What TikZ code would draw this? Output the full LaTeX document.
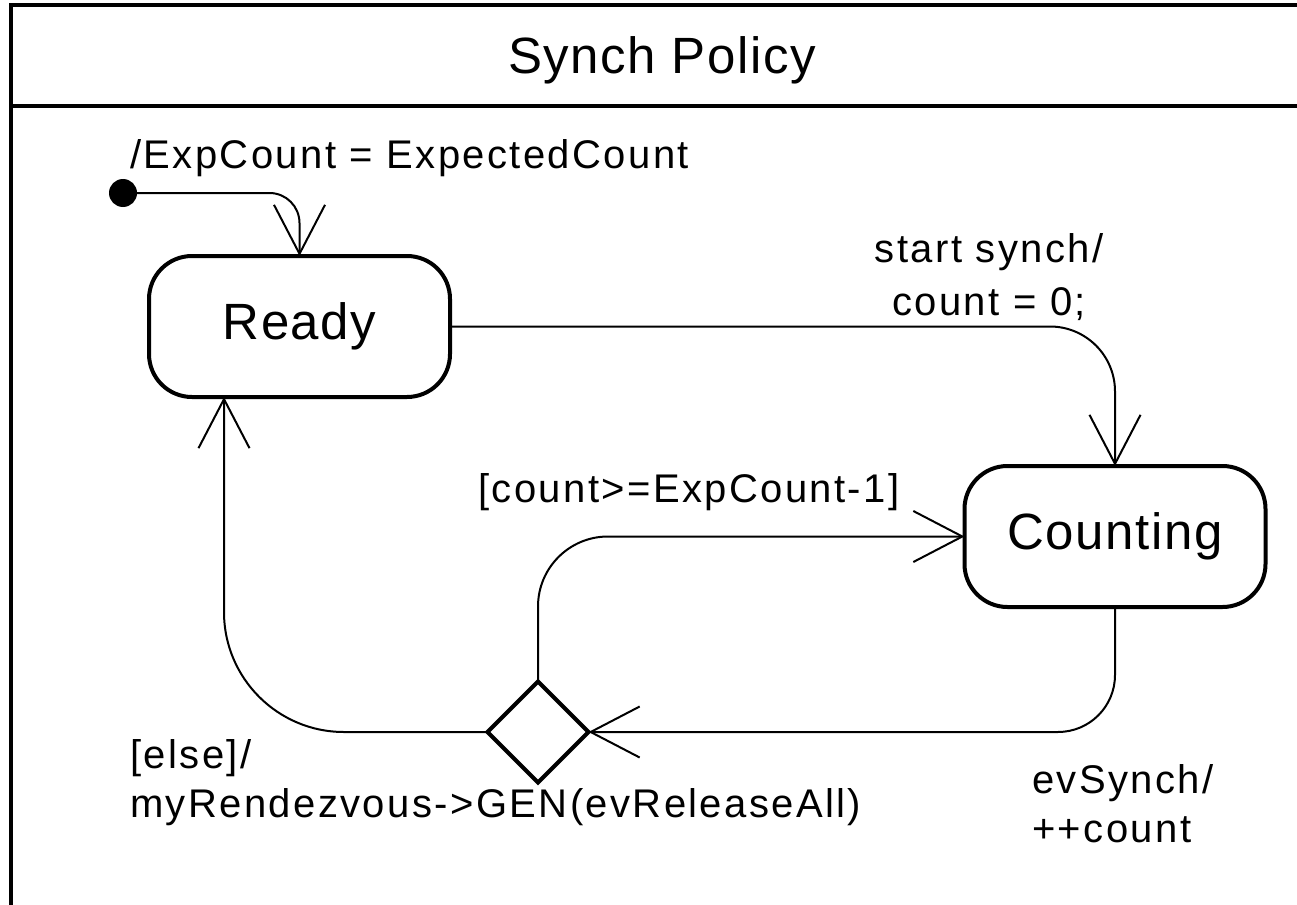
\documentclass[tikz,border=0pt]{standalone}
\usepackage{fontspec}
\setmainfont{Liberation Sans}
\newfontfamily\statefont[LetterSpace=3]{Liberation Sans}
\newfontfamily\labelfont[LetterSpace=6]{Liberation Sans}
\usetikzlibrary{arrows.meta,shapes.geometric}

\begin{document}
\begin{tikzpicture}[x=1pt,y=-1pt,
  statebox/.style={draw, line width=4pt, rounded corners=43pt,
    minimum width=301pt, minimum height=141pt, inner sep=0pt, outer sep=0pt,
    font=\statefont\fontsize{51}{60}\selectfont},
  choice/.style={draw, diamond, line width=4pt, minimum width=101pt,
    minimum height=101pt, inner sep=0pt, outer sep=0pt},
  initdot/.style={circle, fill, minimum size=28pt, inner sep=0pt, outer sep=0pt},
  trans/.style={line width=2pt,
    -{Straight Barb[length=49pt, width=51pt, line width=2pt]}},
  lbl/.style={inner sep=0pt, font=\labelfont\fontsize{40}{49}\selectfont},
  frameline/.style={line width=4pt},
]
\useasboundingbox (0,0) rectangle (1297,904);
\clip (0,0) rectangle (1297,904);

% state machine frame with its title compartment
\draw[frameline] (1320,5) -- (11,5) -- (11,920);
\draw[frameline] (11,106) -- (1320,106);
\node[font=\statefont\fontsize{51}{60}\selectfont, anchor=base, inner sep=0pt]
  (title) at (662,74) {Synch Policy};

% states and pseudo-states
\node[initdot] (init) at (123,193) {};
\node[statebox] (ready) at (299.5,326.5) {Ready};
\node[statebox] (counting) at (1115,536.5) {Counting};
\node[choice] (dec) at (538,732) {};

% transitions
\draw[trans, rounded corners=30pt] (init.east) -| (ready.north);
\draw[trans, rounded corners=65pt] (ready.east) -| (counting.north);
\draw[trans, rounded corners=57pt] (counting.south) |- (dec.east);
\draw[trans, rounded corners=70pt] (dec.north) |- (counting.west);
\draw[trans, rounded corners=120pt] (dec.west) -| ([xshift=75pt]ready.south west);

% transition labels (multi-line labels are placed by their last baseline)
\node[lbl, anchor=base west] (linit) at (130,168) {/ExpCount = ExpectedCount};
\node[lbl, font=\labelfont\fontsize{40}{53}\selectfont, align=center, anchor=base]
  (lstart) at (989,315) {start synch/\\count = 0;};
\node[lbl, anchor=base west] (lguard) at (478,502) {[count>=ExpCount-1]};
\node[lbl, align=left, anchor=base west] (lelse) at (130,817)
  {[else]/\\myRendezvous->GEN(evReleaseAll)};
\node[lbl, align=left, anchor=base west] (lsynch) at (1032,842) {evSynch/\\++count};
\end{tikzpicture}
\end{document}
